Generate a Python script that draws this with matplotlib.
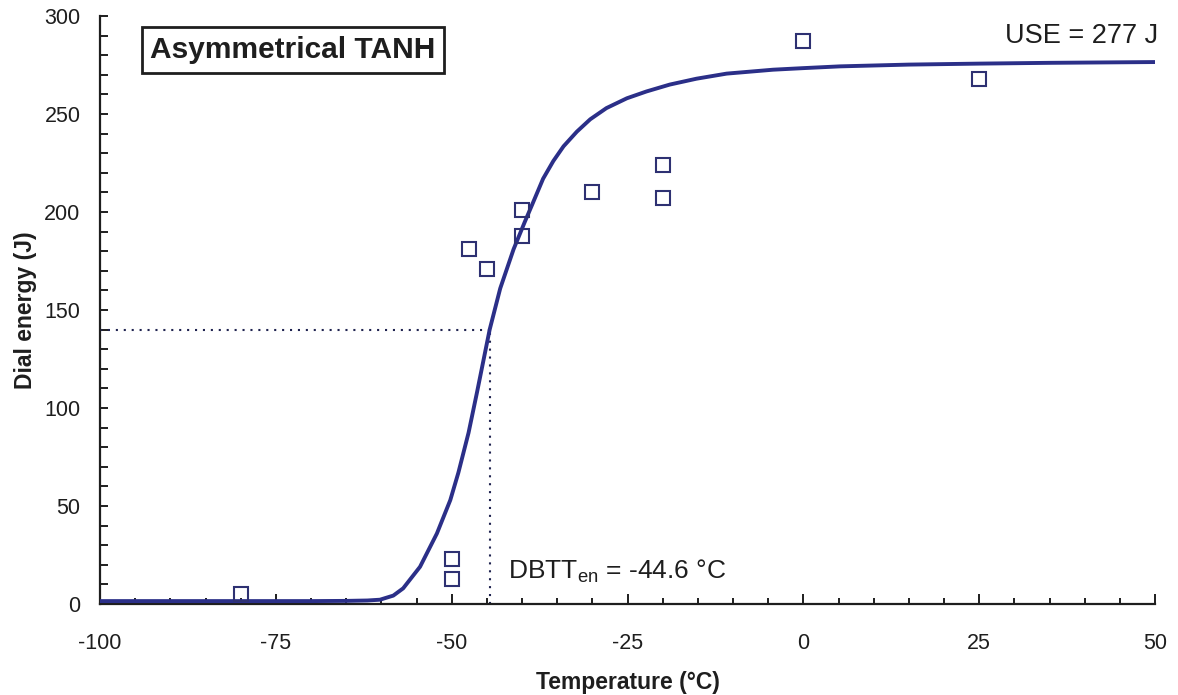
import matplotlib
matplotlib.use("Agg")
import matplotlib.pyplot as plt
from matplotlib.ticker import MultipleLocator
from matplotlib.patches import Rectangle

plt.rcParams['font.family'] = ['Liberation Sans', 'DejaVu Sans']
plt.rcParams['mathtext.fontset'] = 'custom'
plt.rcParams['mathtext.rm'] = 'Liberation Sans'
plt.rcParams['axes.unicode_minus'] = False

# Measured Charpy data (temperature °C, dial energy J)
temp_pts = [-80, -50, -50, -47.5, -45, -40, -40, -30, -20, -20, 0, 25]
energy_pts = [5, 23, 13, 181, 171, 201, 188, 210, 224, 207, 287, 268]

# Fitted asymmetrical tanh curve
curve_T = [-100, -90, -80, -70, -65, -62, -60.2, -58.3, -56.9, -54.5, -52.1,
           -50.2, -49.05, -47.6, -46.4, -44.6, -43.1, -41.2, -39.6, -38.6, -37,
           -35.55, -34.1, -32.2, -30.3, -28, -25.1, -22.3, -19, -15.2, -10.9,
           -4.3, 0, 5.2, 15, 25, 35, 50]
curve_E = [1.5, 1.5, 1.5, 1.5, 1.6, 1.8, 2.2, 4.3, 8, 19, 36,
           53, 67, 87.4, 108, 140, 161, 181, 195, 203.4, 217,
           226, 233.5, 241, 247.3, 253, 258, 261.5, 265, 268, 270.6,
           272.6, 273.4, 274.3, 275.2, 275.7, 276.1, 276.5]

dbtt = -44.6
dbtt_energy = 140
use_label = "USE = 277 J"
dbtt_label = r"DBTT$_{\mathregular{en}}$ = -44.6 °C"
title_label = "Asymmetrical TANH"

line_col = '#2b2f88'
mark_col = '#2e3172'
dot_col = '#1f2350'
ink = '#1e1e1e'

fig = plt.figure(figsize=(11.78, 6.95), dpi=100)
ax = fig.add_axes([0.0849, 0.1309, 0.8956, 0.8461])

ax.plot(curve_T, curve_E, color=line_col, lw=2.8, solid_joinstyle='round', zorder=3)
ax.plot(temp_pts, energy_pts, linestyle='none', marker='s', markersize=9.5,
        markerfacecolor='none', markeredgecolor=mark_col, markeredgewidth=1.5, zorder=4)

ax.plot([-100, dbtt], [dbtt_energy, dbtt_energy], color=dot_col, lw=1.5,
        linestyle=(0, (1, 2.8)), zorder=2)
ax.plot([dbtt, dbtt], [0, dbtt_energy], color=dot_col, lw=1.5,
        linestyle=(0, (1, 2.8)), zorder=2)

ax.set_xlim(-100, 50)
ax.set_ylim(0, 300)
ax.xaxis.set_major_locator(MultipleLocator(25))
ax.xaxis.set_minor_locator(MultipleLocator(5))
ax.yaxis.set_major_locator(MultipleLocator(50))
ax.yaxis.set_minor_locator(MultipleLocator(10))

for s in ['top', 'right']:
    ax.spines[s].set_visible(False)
for s in ['left', 'bottom']:
    ax.spines[s].set_linewidth(1.6)
    ax.spines[s].set_color(ink)

ax.tick_params(axis='both', which='both', direction='in', colors=ink, width=1.4)
ax.tick_params(axis='x', which='major', length=7, pad=21, labelsize=15.5)
ax.tick_params(axis='x', which='minor', length=4.5)
ax.tick_params(axis='y', which='major', length=6, pad=14, labelsize=15.5)
ax.tick_params(axis='y', which='minor', length=6)

ax.set_xlabel("Temperature (°C)", fontsize=16.5, fontweight='bold', color=ink, labelpad=12)
ax.set_ylabel("Dial energy (J)", fontsize=16.5, fontweight='bold', color=ink, labelpad=5.5)

# Title box
ax.add_patch(Rectangle((0.0398, 0.903), 0.2862, 0.078, transform=ax.transAxes,
                       facecolor='white', edgecolor=ink, linewidth=2, zorder=5))
ax.text(0.183, 0.942, title_label, transform=ax.transAxes, ha='center', va='center',
        fontsize=21.5, fontweight='bold', color=ink, zorder=6)
ax.text(50.4, 290, use_label, ha='right', va='center', fontsize=19.5, color=ink)
ax.text(-42.0, 16.5, dbtt_label, ha='left', va='center', fontsize=19, color=ink)

fig.savefig("out.png", dpi=100)
